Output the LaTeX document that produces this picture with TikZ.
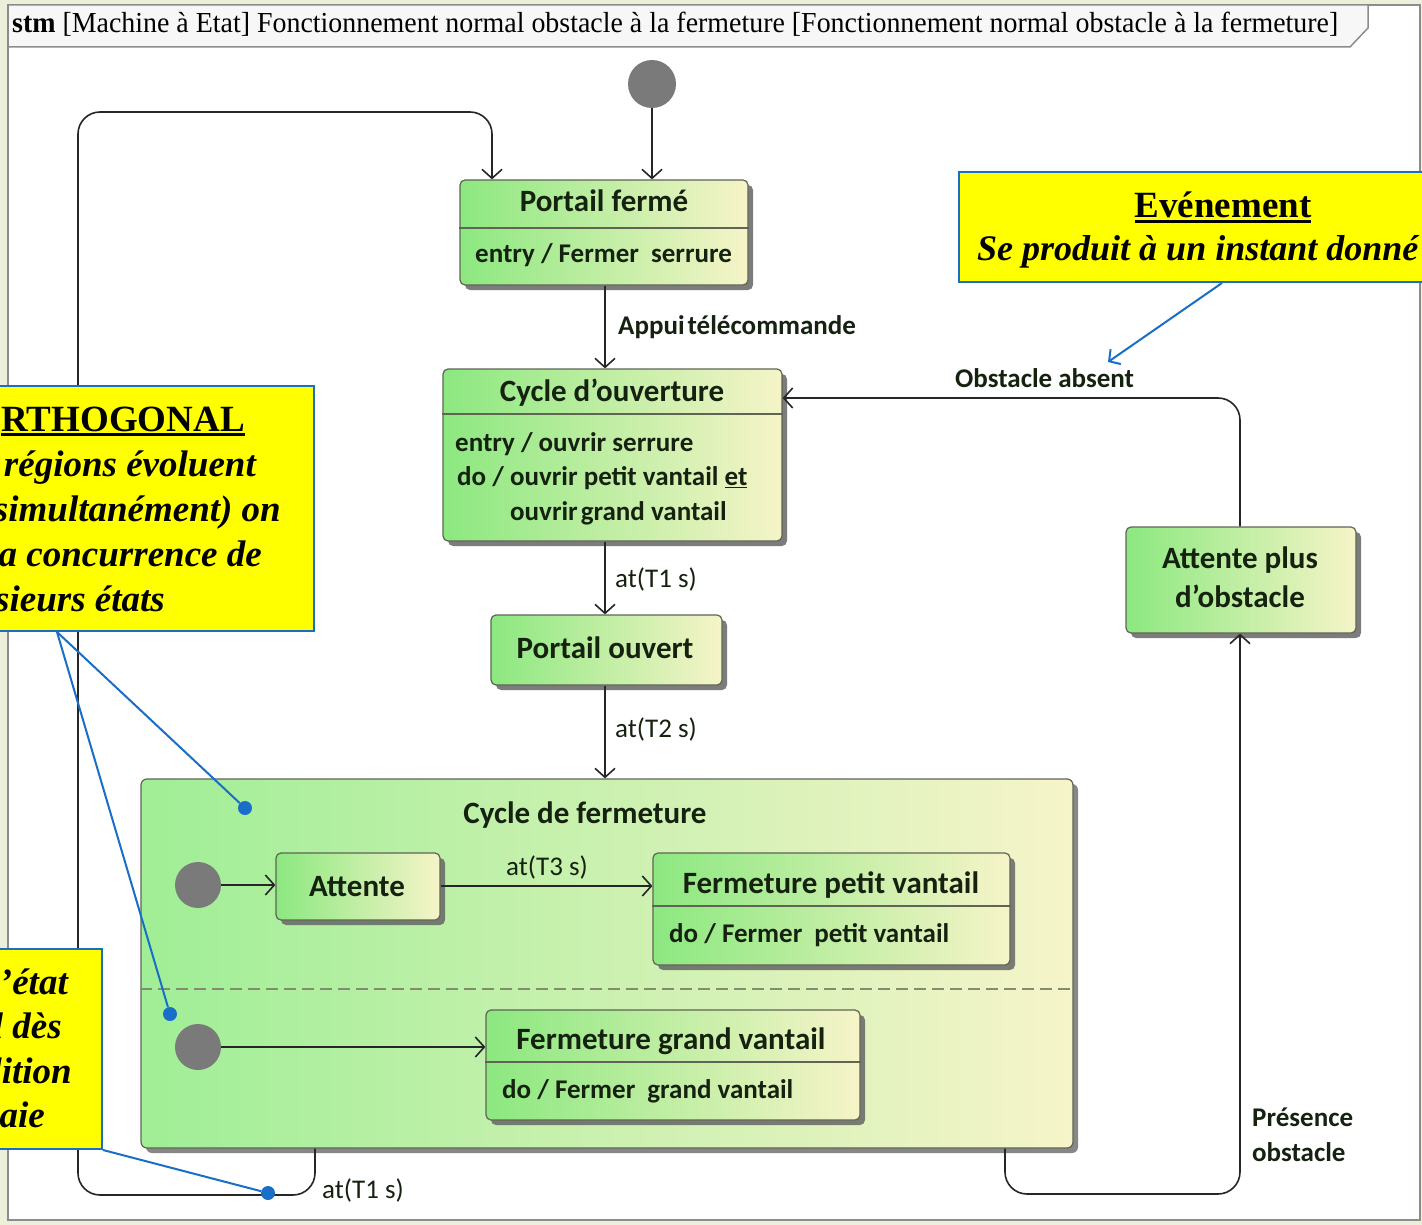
\documentclass[tikz,border=0pt]{standalone}
\usepackage{fontspec}
\usepackage{graphicx}
\setmainfont{Liberation Serif}
\newfontfamily\dia{Carlito}
\usetikzlibrary{arrows.meta,shadows,calc}

\definecolor{gL}{RGB}{140,232,128}
\definecolor{gM}{RGB}{214,216,160}
\definecolor{gR}{RGB}{246,244,200}
\definecolor{cfL}{RGB}{160,238,150}
\definecolor{cfR}{RGB}{246,244,202}
\definecolor{txt}{RGB}{22,34,16}
\definecolor{edge}{RGB}{95,100,85}
\definecolor{notefill}{RGB}{255,255,0}
\definecolor{noteblue}{RGB}{25,110,200}
\definecolor{bgc}{RGB}{236,239,218}
\definecolor{initc}{RGB}{122,122,122}
\definecolor{framec}{RGB}{140,140,140}

% thick underline of a given depth and thickness
\newcommand{\ulbar}[3]{\leavevmode\setbox0\hbox{#3}\rlap{\rule[-#1]{\wd0}{#2}}\box0}

\tikzset{
  state/.style={draw=edge, line width=1.2pt, rounded corners=5pt,
    left color=gL, middle color=gM, right color=gR,
    drop shadow={shadow xshift=5pt, shadow yshift=-5pt, fill=black!60, opacity=.85},
    inner sep=0pt},
  compo/.style={draw=edge, line width=1.2pt, rounded corners=6pt,
    left color=cfL, right color=cfR,
    drop shadow={shadow xshift=5pt, shadow yshift=-5pt, fill=black!55, opacity=.85},
    inner sep=0pt},
  initial/.style={circle, fill=initc, minimum size=48pt, inner sep=0pt},
  ttl/.style={font=\dia\bfseries\fontsize{31}{36}\selectfont, text=txt, inner sep=0pt, anchor=base},
  body/.style={font=\dia\bfseries\fontsize{27}{32}\selectfont, text=txt, inner sep=0pt, anchor=base west},
  lbl/.style={font=\dia\fontsize{27}{32}\selectfont, text=txt, inner sep=0pt, anchor=base west},
  lblb/.style={lbl, font=\dia\bfseries\fontsize{27}{32}\selectfont},
  divider/.style={draw=edge, line width=1.2pt},
  tr/.style={draw=black!85, line width=1.6pt,
    -{Straight Barb[length=9pt,width=20pt,line width=1.6pt]}},
  loop/.style={tr, rounded corners=22pt},
  note/.style={fill=notefill, draw=noteblue, line width=2pt},
  notetxt/.style={font=\bfseries\itshape\fontsize{37}{44}\selectfont, inner sep=0pt, anchor=base east},
  bluelink/.style={draw=noteblue, line width=2pt},
  bluedot/.style={circle, fill=noteblue, minimum size=14pt, inner sep=0pt},
}

\begin{document}
\begin{tikzpicture}[x=1pt,y=-1pt]
\useasboundingbox (0,0) rectangle (1422,1225);
\clip (0,0) rectangle (1422,1225);

% page and frame
\fill[bgc] (0,0) rectangle (1422,1225);
\draw[framec, line width=2pt, fill=white] (8,5) rectangle (1420,1220);
\draw[framec, line width=1.5pt, fill=black!3] (8,5) -- (8,47) -- (1350,47) -- (1368,28) -- (1368,5) -- cycle;
\node[inner sep=0pt, anchor=base west] (head) at (12,33)
  {\resizebox{1326pt}{\height}{\fontsize{29}{32}\selectfont\textbf{stm} [Machine à Etat] Fonctionnement normal obstacle à la fermeture [Fonctionnement normal obstacle à la fermeture]}};

% states
\node[initial] (i0) at (652,84) {};

\node[state, minimum width=288pt, minimum height=105pt] (pf) at (604,232.5) {};
\node[ttl] (pft) at (604,212) {Portail fermé};
\draw[divider] (pf.west |- 0,228) -- (pf.east |- 0,228);
\node[body] (pfb) at (475,262) {entry / Fermer\hspace{6pt} serrure};

\node[state, minimum width=339pt, minimum height=172pt] (co) at (612.5,455) {};
\node[ttl] (cot) at (612,401) {Cycle d’ouverture};
\draw[divider] (co.west |- 0,414) -- (co.east |- 0,414);
\node[body] (cob1) at (455,451) {entry / ouvrir serrure};
\node[body] (cob2) at (457,485) {do / ouvrir petit vantail \ulbar{3pt}{1.5pt}{et}};
\node[body] (cob3) at (510,520) {ouvrir\hspace{3pt}grand vantail};

\node[state, minimum width=231pt, minimum height=70pt] (po) at (606.5,650) {};
\node[ttl] (pot) at (605,658) {Portail ouvert};

\node[state, minimum width=230pt, minimum height=106pt] (ap) at (1241,580) {};
\node[ttl] (apt1) at (1240,568) {Attente plus};
\node[ttl] (apt2) at (1240,607) {d’obstacle};

% composite state with two regions
\node[compo, minimum width=932pt, minimum height=369pt] (cf) at (607,963.5) {};
\node[ttl] (cft) at (585,823) {Cycle de fermeture};
\draw[draw={rgb,255:red,130;green,140;blue,110}, line width=1.5pt, dash pattern=on 12pt off 6pt]
  (cf.west |- 0,989) -- (cf.east |- 0,989);

\node[initial, minimum size=46pt] (i1) at (198,885) {};
\node[state, minimum width=164pt, minimum height=67pt] (at) at (358,886.5) {};
\node[ttl] (att) at (357,896) {Attente};

\node[state, minimum width=357pt, minimum height=112pt] (fp) at (831.5,909) {};
\node[ttl] (fpt) at (831,893) {Fermeture petit vantail};
\draw[divider] (fp.west |- 0,906) -- (fp.east |- 0,906);
\node[body] (fpb) at (669,942) {do / Fermer\hspace{6pt} petit vantail};

\node[initial, minimum size=46pt] (i2) at (198,1047) {};
\node[state, minimum width=374pt, minimum height=110pt] (fg) at (673,1065) {};
\node[ttl] (fgt) at (671,1049) {Fermeture grand vantail};
\draw[divider] (fg.west |- 0,1062) -- (fg.east |- 0,1062);
\node[body] (fgb) at (502,1098) {do / Fermer\hspace{6pt} grand vantail};

% transitions
\draw[tr] (i0.south) -- (i0.south |- pf.north);
\draw[tr] (pf.south -| 605,0) -- (co.north -| 605,0);
\node[lblb] (l1) at (618,334) {Appui\hspace{3pt}télécommande};
\draw[tr] (co.south -| 605,0) -- (po.north -| 605,0);
\node[lbl] (l2) at (615,587) {at(T1 s)};
\draw[tr] (po.south -| 605,0) -- (cf.north -| 605,0);
\node[lbl] (l3) at (615,737) {at(T2 s)};

\draw[tr] (i1.east) -- (at.west |- i1.east);
\draw[tr] (at.east |- 0,886) -- (fp.west |- 0,886);
\node[lbl] (l4) at (506,875) {at(T3 s)};
\draw[tr] (i2.east) -- (fg.west |- i2.east);

\draw[loop] (cf.south -| 315,0) -- (315,1195) -- (78,1195) -- (78,112) -- (492,112) -- (pf.north -| 492,0);
\node[lbl] (l5) at (322,1198) {at(T1 s)};

\draw[loop] (cf.south -| 1005,0) -- (1005,1194) -- (1240,1194) -- (ap.south -| 1240,0);
\node[lblb] (l6) at (1252,1126) {Présence};
\node[lblb] (l7) at (1252,1161) {obstacle};

\draw[loop] (ap.north -| 1240,0) -- (1240,398) -- (co.east |- 0,398);
\node[lblb] (l8) at (955,387) {Obstacle absent};

% notes
\node[note, minimum width=500pt, minimum height=110pt, inner sep=0pt, anchor=north west] (evt) at (958,171) {};
\node[inner sep=0pt, anchor=base, font=\bfseries\fontsize{37}{44}\selectfont] (evtt) at (1223,218) {\ulbar{5pt}{2.6pt}{Evénement}};
\node[inner sep=0pt, anchor=base west, font=\bfseries\itshape\fontsize{36}{44}\selectfont] (evtb) at (977,261) {Se produit à un instant donné};
\coordinate (evtend) at (1108,362);
\draw[bluelink, -{Straight Barb[length=8pt,width=18pt,line width=2pt]}] (evt.south -| 1222,0) -- (evtend);

\node[note, minimum width=345pt, minimum height=245pt, inner sep=0pt, anchor=north east] (orth) at (315,385) {};
\node[notetxt, font=\bfseries\fontsize{37}{44}\selectfont] (o1) at (245,431) {\ulbar{5pt}{2.8pt}{RTHOGONAL}};
\node[notetxt] (o2) at (256,476) {régions évoluent};
\node[notetxt] (o3) at (281,521) {simultanément) on};
\node[notetxt] (o4) at (262,566) {a concurrence de};
\node[notetxt] (o5) at (165,611) {sieurs états};

\node[note, minimum width=133pt, minimum height=200pt, inner sep=0pt, anchor=north east] (cond) at (103,948) {};
\node[notetxt] (c1) at (68,994) {’état};
\node[notetxt] (c2) at (62,1038) {l dès};
\node[notetxt] (c3) at (72,1083) {lition};
\node[notetxt] (c4) at (45,1127) {aie};

\node[bluedot] (d1) at (245,808) {};
\node[bluedot] (d2) at (170,1014) {};
\node[bluedot] (d3) at (268,1193) {};
\draw[bluelink] (orth.south -| 57,0) -- (d1);
\draw[bluelink] (orth.south -| 57,0) -- (d2);
\draw[bluelink] (cond.south east) -- (d3);
\end{tikzpicture}
\end{document}
